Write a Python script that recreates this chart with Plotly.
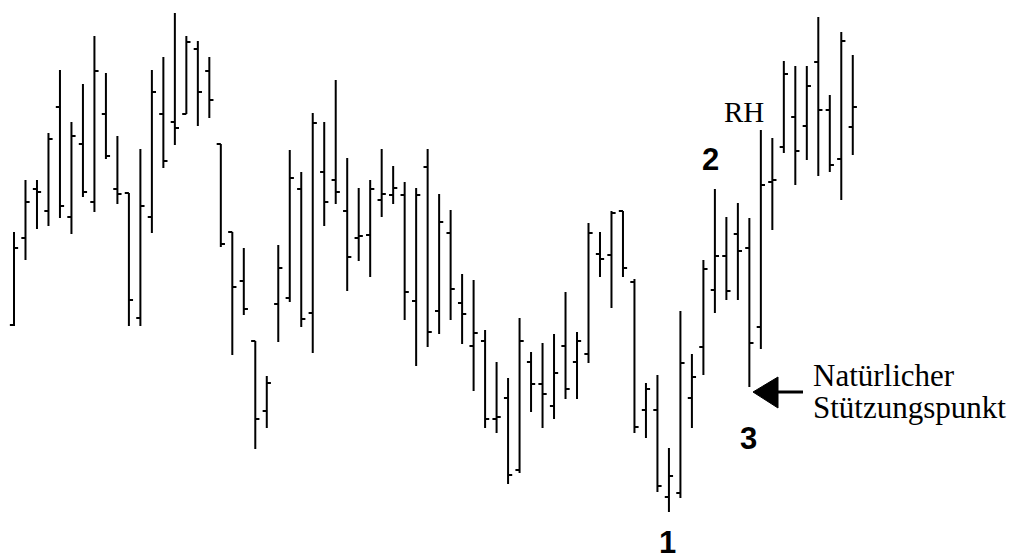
import plotly.graph_objects as go

# Price values (price units = tenths of a pixel row, higher = up)
bar_index = list(range(74))
opens = [27.5, 36.2, 41.1, 38.9, 49.3, 38.3, 45.6, 39.8, 48.6, 41.1,
         40.7, 28.2, 38.3, 48.6, 47.8, 48.6, 55.1, 52.9, 45.6, 36.8,
         31.9, 25.9, 18.9, 29.6, 30.2, 41.1, 28.7, 42.8, 42.0, 38.9,
         36.2, 36.5, 40.0, 40.5, 40.5, 29.9, 43.3, 28.9, 36.7, 29.7,
         25.4, 25.9, 18.1, 20.2, 13.0, 23.8, 21.6, 19.4, 25.4, 23.8,
         24.6, 34.6, 34.5, 38.9, 31.8, 19.0, 19.0, 10.3, 10.7, 20.2,
         25.3, 31.0, 34.4, 36.6, 35.2, 27.3, 41.8, 45.3, 48.3, 47.4,
         53.8, 49.0, 44.1, 47.3]
highs = [36.8, 42.0, 42.0, 46.7, 53.0, 47.8, 51.6, 56.4, 52.7, 46.4,
         40.7, 45.1, 53.0, 54.3, 58.7, 56.4, 55.9, 54.3, 45.6, 36.8,
         35.2, 25.9, 22.4, 35.5, 45.0, 42.8, 48.7, 47.8, 52.0, 44.2,
         41.2, 42.0, 45.1, 43.4, 41.8, 41.2, 45.1, 40.6, 39.0, 32.6,
         32.0, 27.0, 23.8, 22.2, 28.2, 24.8, 25.7, 26.6, 30.8, 26.8,
         37.7, 36.8, 38.9, 38.9, 32.1, 21.7, 22.5, 15.2, 28.9, 24.6,
         34.0, 41.1, 38.3, 39.7, 38.2, 47.0, 46.2, 53.9, 53.4, 53.4,
         58.3, 50.5, 56.8, 54.5]
lows = [27.4, 34.0, 37.1, 37.4, 38.2, 36.6, 40.3, 38.8, 44.1, 39.6,
        27.4, 27.4, 36.7, 43.2, 45.5, 48.6, 47.4, 48.2, 35.3, 24.5,
        28.5, 15.1, 17.2, 25.8, 29.8, 27.3, 24.7, 37.4, 39.6, 30.9,
        33.9, 32.3, 38.3, 39.6, 28.0, 23.4, 25.3, 26.6, 28.0, 25.6,
        20.9, 17.2, 16.7, 11.6, 12.7, 18.8, 17.2, 18.1, 20.1, 20.1,
        23.7, 32.3, 29.2, 32.3, 16.7, 16.2, 10.8, 8.8, 10.2, 17.2,
        22.5, 28.7, 30.0, 30.0, 21.3, 25.1, 37.0, 44.7, 41.5, 44.0,
        42.4, 42.8, 40.0, 44.5]
closes = [35.2, 39.8, 40.8, 46.1, 39.4, 46.4, 40.8, 52.9, 44.4, 40.6,
          30.0, 39.4, 50.8, 43.9, 47.2, 55.8, 50.8, 50.0, 35.6, 31.3,
          29.1, 18.1, 21.7, 33.2, 42.2, 28.1, 47.7, 39.8, 40.8, 34.3,
          36.4, 41.1, 40.6, 41.2, 30.8, 40.5, 26.8, 37.8, 31.1, 28.6,
          26.7, 18.1, 18.3, 12.5, 25.9, 21.6, 20.6, 22.7, 21.1, 25.9,
          36.7, 34.1, 38.7, 33.2, 17.3, 21.1, 11.4, 12.4, 23.7, 22.3,
          33.1, 34.4, 30.9, 34.9, 25.7, 41.5, 42.0, 52.6, 44.9, 51.4,
          49.0, 43.5, 55.9, 49.3]

point_labels = ["1", "2", "3"]
label_text = ["Natürlicher", "Stützungspunkt"]
rh_text = "RH"

W, H = 1015, 559
PAGE_OFF = 8                  # default body margin of the html page
X0, DX = 14.0, 11.49          # screen pixel of first bar and bar spacing
PY0, PSCALE = 600.0, 10.0     # price = (PY0 - ypix) / PSCALE


def px_x(px):
    return (px - X0) / DX


def px_y(py):
    return (PY0 - py) / PSCALE


FW, FH = W - PAGE_OFF, H - PAGE_OFF

fig = go.Figure()
fig.add_trace(go.Ohlc(
    x=bar_index, open=opens, high=highs, low=lows, close=closes,
    increasing=dict(line=dict(color="black", width=2)),
    decreasing=dict(line=dict(color="black", width=2)),
    tickwidth=0.36, showlegend=False, hoverinfo="skip",
))

serif = "Liberation Serif"
sans = "Liberation Sans"

annotations = [
    dict(x=px_x(744), y=px_y(112), text=rh_text, showarrow=False,
         font=dict(family=serif, size=29, color="black")),
    dict(x=px_x(710), y=px_y(159), text="<b>%s</b>" % point_labels[1], showarrow=False,
         font=dict(family=sans, size=31, color="black")),
    dict(x=px_x(748), y=px_y(438), text="<b>%s</b>" % point_labels[2], showarrow=False,
         font=dict(family=sans, size=31, color="black")),
    dict(x=px_x(667), y=px_y(542), text="<b>%s</b>" % point_labels[0], showarrow=False,
         font=dict(family=sans, size=31, color="black")),
    dict(x=px_x(811), y=px_y(375), text=label_text[0], showarrow=False, xanchor="left",
         font=dict(family=serif, size=31, color="black")),
    dict(x=px_x(811), y=px_y(407), text=label_text[1], showarrow=False, xanchor="left",
         font=dict(family=serif, size=31, color="black")),
]
for a in annotations:
    a.update(xref="x", yref="y")

shapes = [
    dict(type="path", xref="x", yref="y",
         path="M %f,%f L %f,%f L %f,%f Z" % (px_x(753), px_y(392), px_x(778), px_y(377),
                                              px_x(778), px_y(408)),
         fillcolor="black", line=dict(color="black", width=1)),
    dict(type="line", xref="x", yref="y", x0=px_x(776), y0=px_y(392), x1=px_x(803), y1=px_y(392),
         line=dict(color="black", width=3)),
]

fig.update_layout(
    width=FW, height=FH,
    margin=dict(l=0, r=0, t=0, b=0),
    paper_bgcolor="white", plot_bgcolor="white",
    annotations=annotations, shapes=shapes,
    xaxis=dict(range=[px_x(PAGE_OFF), px_x(PAGE_OFF + FW)], visible=False,
               rangeslider=dict(visible=False), showgrid=False, zeroline=False),
    yaxis=dict(range=[px_y(PAGE_OFF + FH), px_y(PAGE_OFF)], visible=False,
               showgrid=False, zeroline=False),
)

fig.write_html("out.html")
